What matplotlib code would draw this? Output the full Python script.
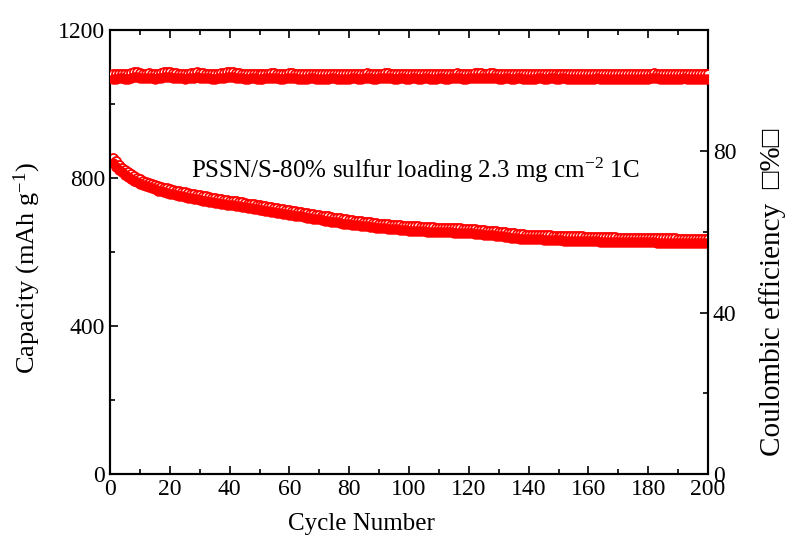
import matplotlib
matplotlib.use("Agg")
import matplotlib.pyplot as plt
from matplotlib.ticker import MultipleLocator

plt.rcParams['font.family'] = ['Liberation Serif', 'DejaVu Sans']
plt.rcParams['mathtext.fontset'] = 'custom'
plt.rcParams['mathtext.rm'] = 'Liberation Serif'
plt.rcParams['mathtext.it'] = 'Liberation Serif:italic'

cycles = list(range(1, 201))

discharge_capacity = [
    840, 830, 822, 815, 809, 803, 798, 793, 789, 785,
    781, 778, 775, 772, 769, 766, 764, 762, 760, 758,
    756, 754, 752, 750, 749, 747, 745, 744, 742, 741,
    739, 738, 736, 735, 733, 732, 731, 729, 728, 727,
    726, 725, 723, 722, 721, 719, 718, 717, 715, 714,
    713, 711, 710, 709, 707, 706, 705, 703, 702, 701,
    700, 698, 697, 696, 694, 693, 692, 690, 689, 688,
    686, 685, 684, 682, 681, 680, 679, 677, 676, 675,
    674, 673, 672, 671, 670, 669, 668, 667, 666, 665,
    664, 664, 663, 662, 661, 661, 660, 659, 659, 658,
    658, 657, 657, 656, 656, 655, 655, 655, 654, 654,
    654, 653, 653, 653, 652, 652, 652, 651, 651, 650,
    650, 649, 648, 648, 647, 646, 645, 645, 644, 643,
    642, 641, 640, 639, 638, 637, 636, 636, 635, 635,
    635, 634, 634, 634, 633, 633, 633, 632, 632, 632,
    632, 631, 631, 631, 630, 630, 630, 630, 629, 629,
    629, 629, 629, 628, 628, 628, 628, 628, 628, 627,
    627, 627, 627, 627, 627, 626, 626, 626, 626, 626,
    626, 626, 625, 625, 625, 625, 625, 625, 625, 624,
    624, 624, 624, 624, 624, 624, 623, 623, 623, 623,
]

charge_capacity = [
    855, 845, 836, 828, 821, 815, 810, 805, 801, 797,
    793, 790, 787, 784, 781, 778, 776, 774, 772, 770,
    768, 766, 764, 762, 761, 759, 757, 756, 754, 753,
    751, 750, 748, 747, 745, 744, 743, 741, 740, 739,
    738, 737, 735, 734, 733, 731, 730, 729, 727, 726,
    725, 723, 722, 721, 719, 718, 717, 715, 714, 713,
    712, 710, 709, 708, 706, 705, 704, 702, 701, 700,
    698, 697, 696, 694, 693, 692, 691, 689, 688, 687,
    686, 685, 684, 683, 682, 681, 680, 679, 678, 677,
    676, 676, 675, 674, 673, 673, 672, 671, 671, 670,
    670, 669, 669, 668, 668, 667, 667, 667, 666, 666,
    666, 665, 665, 665, 664, 664, 664, 663, 663, 662,
    662, 661, 660, 660, 659, 658, 657, 657, 656, 655,
    654, 653, 652, 651, 650, 649, 648, 648, 647, 647,
    647, 646, 646, 646, 645, 645, 645, 644, 644, 644,
    644, 643, 643, 643, 642, 642, 642, 642, 641, 641,
    641, 641, 641, 640, 640, 640, 640, 640, 640, 639,
    639, 639, 639, 639, 639, 638, 638, 638, 638, 638,
    638, 638, 637, 637, 637, 637, 637, 637, 637, 636,
    636, 636, 636, 636, 636, 636, 635, 635, 635, 635,
]

ce_open = [
    99.0, 99.1, 99.2, 99.2, 99.1, 99.0, 99.3, 99.6, 99.5, 99.3,
    99.2, 99.2, 99.3, 99.2, 99.1, 99.2, 99.3, 99.5, 99.6, 99.5,
    99.4, 99.3, 99.2, 99.2, 99.1, 99.2, 99.3, 99.4, 99.5, 99.4,
    99.3, 99.2, 99.2, 99.1, 99.1, 99.2, 99.3, 99.4, 99.5, 99.6,
    99.5, 99.4, 99.3, 99.2, 99.1, 99.1, 99.2, 99.2, 99.1, 99.0,
    99.1, 99.2, 99.2, 99.3, 99.3, 99.2, 99.1, 99.1, 99.2, 99.3,
    99.3, 99.2, 99.1, 99.0, 99.1, 99.1, 99.2, 99.2, 99.1, 99.0,
    99.0, 99.1, 99.1, 99.2, 99.2, 99.1, 99.0, 99.0, 99.1, 99.1,
    99.2, 99.2, 99.1, 99.1, 99.2, 99.3, 99.2, 99.1, 99.1, 99.2,
    99.2, 99.3, 99.3, 99.2, 99.1, 99.1, 99.2, 99.2, 99.1, 99.1,
    99.2, 99.2, 99.1, 99.1, 99.2, 99.2, 99.1, 99.1, 99.1, 99.2,
    99.2, 99.1, 99.1, 99.2, 99.2, 99.3, 99.2, 99.1, 99.1, 99.2,
    99.2, 99.3, 99.4, 99.3, 99.2, 99.2, 99.3, 99.3, 99.2, 99.1,
    99.1, 99.2, 99.2, 99.1, 99.1, 99.2, 99.2, 99.1, 99.1, 99.0,
    99.1, 99.1, 99.2, 99.2, 99.1, 99.1, 99.2, 99.2, 99.1, 99.1,
    99.2, 99.2, 99.1, 99.1, 99.0, 99.0, 99.1, 99.1, 99.0, 99.0,
    99.1, 99.1, 99.2, 99.1, 99.1, 99.0, 99.0, 99.1, 99.1, 99.0,
    99.0, 99.1, 99.1, 99.0, 99.0, 99.1, 99.1, 99.0, 99.0, 99.1,
    99.2, 99.3, 99.2, 99.1, 99.0, 99.0, 99.1, 99.1, 99.0, 99.0,
    99.1, 99.2, 99.1, 99.0, 99.0, 99.1, 99.1, 99.0, 99.0, 99.0,
]

ce_filled = [
    97.8, 97.9, 98.0, 98.0, 97.9, 97.8, 98.1, 98.4, 98.3, 98.1,
    98.0, 98.0, 98.1, 98.0, 97.9, 98.0, 98.1, 98.3, 98.4, 98.3,
    98.2, 98.1, 98.0, 98.0, 97.9, 98.0, 98.1, 98.2, 98.3, 98.2,
    98.1, 98.0, 98.0, 97.9, 97.9, 98.0, 98.1, 98.2, 98.3, 98.4,
    98.3, 98.2, 98.1, 98.0, 97.9, 97.9, 98.0, 98.0, 97.9, 97.8,
    97.9, 98.0, 98.0, 98.1, 98.1, 98.0, 97.9, 97.9, 98.0, 98.1,
    98.1, 98.0, 97.9, 97.8, 97.9, 97.9, 98.0, 98.0, 97.9, 97.8,
    97.8, 97.9, 97.9, 98.0, 98.0, 97.9, 97.8, 97.8, 97.9, 97.9,
    98.0, 98.0, 97.9, 97.9, 98.0, 98.1, 98.0, 97.9, 97.9, 98.0,
    98.0, 98.1, 98.1, 98.0, 97.9, 97.9, 98.0, 98.0, 97.9, 97.9,
    98.0, 98.0, 97.9, 97.9, 98.0, 98.0, 97.9, 97.9, 97.9, 98.0,
    98.0, 97.9, 97.9, 98.0, 98.0, 98.1, 98.0, 97.9, 97.9, 98.0,
    98.0, 98.1, 98.2, 98.1, 98.0, 98.0, 98.1, 98.1, 98.0, 97.9,
    97.9, 98.0, 98.0, 97.9, 97.9, 98.0, 98.0, 97.9, 97.9, 97.8,
    97.9, 97.9, 98.0, 98.0, 97.9, 97.9, 98.0, 98.0, 97.9, 97.9,
    98.0, 98.0, 97.9, 97.9, 97.8, 97.8, 97.9, 97.9, 97.8, 97.8,
    97.9, 97.9, 98.0, 97.9, 97.9, 97.8, 97.8, 97.9, 97.9, 97.8,
    97.8, 97.9, 97.9, 97.8, 97.8, 97.9, 97.9, 97.8, 97.8, 97.9,
    98.0, 98.1, 98.0, 97.9, 97.8, 97.8, 97.9, 97.9, 97.8, 97.8,
    97.9, 98.0, 97.9, 97.8, 97.8, 97.9, 97.9, 97.8, 97.8, 97.8,
]

annotation = "PSSN/S-80% sulfur loading 2.3 mg cm$^{-2}$ 1C"

fig = plt.figure(figsize=(7.9, 5.52), dpi=100)
ax = fig.add_axes([110/790, 78/552, 598/790, 444/552])
ax2 = ax.twinx()

red = '#ff0000'
ms = 6.5
ax.plot(cycles, charge_capacity, 'o', ms=ms, mfc='white', mec=red, mew=1.3, zorder=3)
ax.plot(cycles, discharge_capacity, 'o', ms=ms, mfc=red, mec=red, mew=1.0, zorder=4)
ax2.plot(cycles, ce_open, 'o', ms=ms, mfc='white', mec=red, mew=1.3, zorder=3)
ax2.plot(cycles, ce_filled, 'o', ms=ms, mfc=red, mec=red, mew=1.0, zorder=4)

ax.set_xlim(0, 200)
ax.set_ylim(0, 1200)
ax2.set_ylim(0, 110)

ax.xaxis.set_major_locator(MultipleLocator(20))
ax.xaxis.set_minor_locator(MultipleLocator(10))
ax.yaxis.set_major_locator(MultipleLocator(400))
ax.yaxis.set_minor_locator(MultipleLocator(200))
ax2.yaxis.set_major_locator(MultipleLocator(40))
ax2.yaxis.set_minor_locator(MultipleLocator(20))

fs = 17
ax.tick_params(axis='both', which='both', direction='in', labelsize=fs, width=1.2)
ax.tick_params(axis='x', which='both', top=True)
ax.tick_params(which='major', length=6)
ax.tick_params(which='minor', length=3.5)
ax2.tick_params(axis='y', which='both', direction='in', labelsize=fs, width=1.2)
ax2.tick_params(which='major', length=6)
ax2.tick_params(which='minor', length=3.5)
for a in (ax, ax2):
    for s in a.spines.values():
        s.set_linewidth(1.5)

ax.set_xlabel("Cycle Number", fontsize=18)
ax.xaxis.set_label_coords(0.42, -0.088)
ax.set_ylabel("Capacity (mAh g$^{-1}$)", fontsize=19)
ax.yaxis.set_label_coords(-0.112, 0.464)
ax2.set_ylabel("Coulombic efficiency  \u25a1%\u25a1", fontsize=21, rotation=90)
ax2.yaxis.set_label_coords(1.085, 0.41)

ax.text(27, 822, annotation, fontsize=18, va='center', ha='left')

fig.savefig("out.png", dpi=100)
